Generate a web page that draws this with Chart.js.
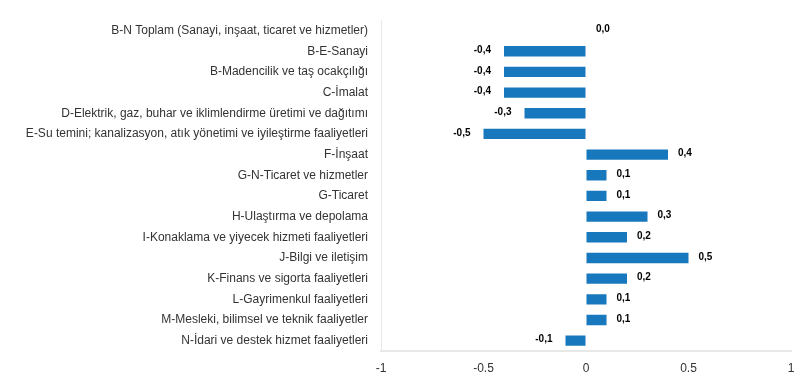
<!DOCTYPE html>
<html>
<head>
<meta charset="utf-8">
<script src="https://cdn.jsdelivr.net/npm/chart.js@4/dist/chart.umd.min.js"></script>
<style>
  html, body { margin: 0; padding: 0; background: #ffffff; }
  #wrap { width: 799px; height: 391px; position: relative; }
</style>
</head>
<body>
<div id="wrap"><canvas id="c"></canvas></div>
<script>
const categories = [
  "B-N Toplam (Sanayi, inşaat, ticaret ve hizmetler)",
  "B-E-Sanayi",
  "B-Madencilik ve taş ocakçılığı",
  "C-İmalat",
  "D-Elektrik, gaz, buhar ve iklimlendirme üretimi ve dağıtımı",
  "E-Su temini; kanalizasyon, atık yönetimi ve iyileştirme faaliyetleri",
  "F-İnşaat",
  "G-N-Ticaret ve hizmetler",
  "G-Ticaret",
  "H-Ulaştırma ve depolama",
  "I-Konaklama ve yiyecek hizmeti faaliyetleri",
  "J-Bilgi ve iletişim",
  "K-Finans ve sigorta faaliyetleri",
  "L-Gayrimenkul faaliyetleri",
  "M-Mesleki, bilimsel ve teknik faaliyetler",
  "N-İdari ve destek hizmet faaliyetleri"
];
const values = [0.0, -0.4, -0.4, -0.4, -0.3, -0.5, 0.4, 0.1, 0.1, 0.3, 0.2, 0.5, 0.2, 0.1, 0.1, -0.1];
const xTicks = [-1, -0.5, 0, 0.5, 1];

function fmt(v) {
  let s = Math.abs(v).toFixed(1).replace('.', ',');
  return (v < 0 && Math.abs(v) >= 0.05 ? '-' : '') + s;
}

const labelPlugin = {
  id: 'valueLabels',
  afterDatasetsDraw(chart) {
    const ctx = chart.ctx;
    const meta = chart.getDatasetMeta(0);
    const ds = chart.data.datasets[0].data;
    ctx.save();
    ctx.font = 'bold 10px "Liberation Sans", Arial, sans-serif';
    ctx.fillStyle = '#000';
    ctx.textBaseline = 'middle';
    meta.data.forEach((bar, i) => {
      const v = ds[i];
      if (v < 0) {
        ctx.textAlign = 'right';
        ctx.fillText(fmt(v), bar.x - 13, bar.y - 1);
      } else {
        ctx.textAlign = 'left';
        ctx.fillText(fmt(v), bar.x + 10, bar.y - 1);
      }
    });
    ctx.restore();
  }
};

new Chart(document.getElementById('c'), {
  type: 'bar',
  data: {
    labels: categories,
    datasets: [{
      data: values,
      backgroundColor: '#1878be',
      borderWidth: 0,
      barPercentage: 0.5,
      categoryPercentage: 1.0
    }]
  },
  options: {
    indexAxis: 'y',
    responsive: true,
    maintainAspectRatio: false,
    animation: false,
    layout: { padding: { top: 18, right: 8, bottom: 0, left: 0 } },
    plugins: { legend: { display: false }, tooltip: { enabled: false } },
    scales: {
      x: {
        min: -1, max: 1,
        afterBuildTicks(scale) { scale.ticks = xTicks.map(v => ({ value: v })); },
        afterFit(scale) { scale.height = 40; scale.paddingLeft = 0; scale.paddingRight = 0; },
        grid: { drawOnChartArea: false, drawTicks: false },
        border: { display: true, color: '#e8e8e8', width: 2 },
        ticks: {
          padding: 10,
          color: '#333',
          font: { family: '"Liberation Sans", Arial, sans-serif', size: 12 },
          callback: (v) => String(v)
        }
      },
      y: {
        afterFit(scale) { scale.width = 381; },
        grid: { drawOnChartArea: false, drawTicks: false },
        border: { display: true, color: '#e8e8e8', width: 1 },
        ticks: {
          padding: 13,
          color: '#333',
          autoSkip: false,
          font: { family: '"Liberation Sans", Arial, sans-serif', size: 12 }
        }
      }
    }
  },
  plugins: [labelPlugin]
});
</script>
</body>
</html>
